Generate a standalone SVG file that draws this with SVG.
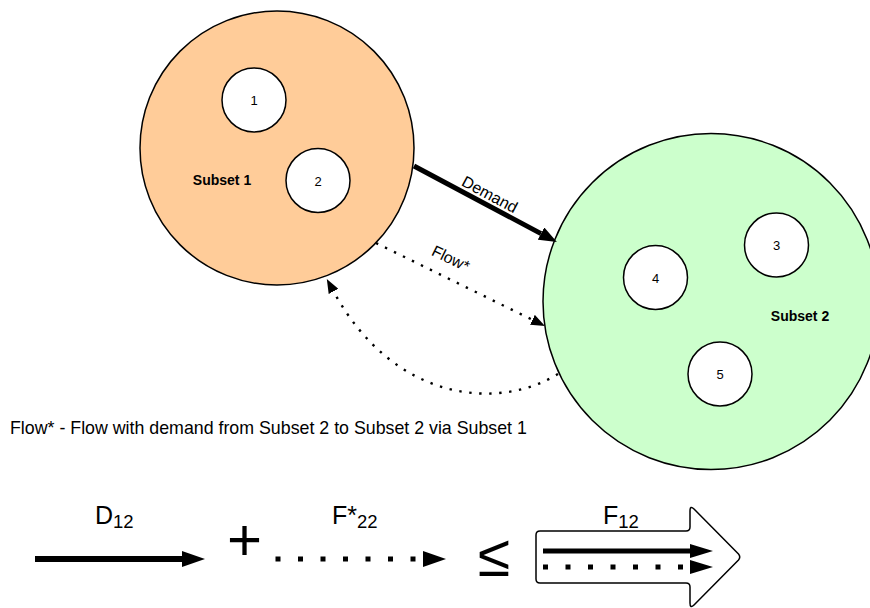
<svg xmlns="http://www.w3.org/2000/svg" width="870" height="608" viewBox="0 0 870 608">
  <style>
    text { font-family: "Liberation Sans", Arial, sans-serif; fill: #000; }
    .set { stroke: #000; stroke-width: 1.5; }
    .node { fill: #fff; stroke: #000; stroke-width: 1.5; }
    .num { font-size: 13px; text-anchor: middle; }
    .setlabel { font-size: 14px; font-weight: bold; text-anchor: middle; }
    .lbl { font-size: 16px; text-anchor: middle; }
    .eq { font-size: 25px; }
    .sub { font-size: 18.5px; }
    .dot { fill: none; stroke: #000; stroke-width: 2.4; stroke-dasharray: 2.4 7.6; }
    .sq { fill: none; stroke: #000; stroke-width: 5; stroke-dasharray: 5 17.5; }
  </style>
  <defs>
    <marker id="ahBig" markerUnits="userSpaceOnUse" markerWidth="18" markerHeight="14" refX="0" refY="7" orient="auto">
      <path d="M0,0 L18,7 L0,14 Z" fill="#000"/>
    </marker>
    <marker id="ahSmall" markerUnits="userSpaceOnUse" markerWidth="14" markerHeight="11" refX="0" refY="5.5" orient="auto">
      <path d="M0,0 L14,5.5 L0,11 Z" fill="#000"/>
    </marker>
    <marker id="ahEq" markerUnits="userSpaceOnUse" markerWidth="23" markerHeight="16" refX="0" refY="8" orient="auto">
      <path d="M0,0 L23,8 L0,16 Z" fill="#000"/>
    </marker>
    <marker id="ahIn" markerUnits="userSpaceOnUse" markerWidth="23" markerHeight="14" refX="0" refY="7" orient="auto">
      <path d="M0,0 L23,7 L0,14 Z" fill="#000"/>
    </marker>
  </defs>

  <!-- Subset 1 -->
  <g id="subset1">
    <circle class="set" cx="277" cy="148" r="137" fill="#FFCC99"/>
    <text class="setlabel" x="222" y="185">Subset 1</text>
  </g>
  <g id="node1">
    <circle class="node" cx="254" cy="100" r="32"/>
    <text class="num" x="254" y="105">1</text>
  </g>
  <g id="node2">
    <circle class="node" cx="318" cy="180.5" r="32"/>
    <text class="num" x="318" y="185.5">2</text>
  </g>

  <!-- Subset 2 -->
  <g id="subset2">
    <circle class="set" cx="711" cy="301.5" r="168" fill="#CCFFCC"/>
    <text class="setlabel" x="800" y="321">Subset 2</text>
  </g>
  <g id="node3">
    <circle class="node" cx="776.5" cy="245" r="32"/>
    <text class="num" x="776.5" y="250">3</text>
  </g>
  <g id="node4">
    <circle class="node" cx="655.5" cy="277.5" r="32"/>
    <text class="num" x="655.5" y="282.5">4</text>
  </g>
  <g id="node5">
    <circle class="node" cx="720" cy="374" r="32"/>
    <text class="num" x="720" y="379">5</text>
  </g>

  <!-- connectors between the subsets -->
  <g id="connectors">
    <path d="M414,166 L541,233.6" fill="none" stroke="#000" stroke-width="5" marker-end="url(#ahBig)"/>
    <text class="lbl" transform="translate(490,194) rotate(28)" x="0" y="6">Demand</text>
    <path class="dot" d="M376,243 L532.4,319.8" marker-end="url(#ahSmall)"/>
    <text class="lbl" transform="translate(451,258) rotate(26)" x="0" y="6">Flow*</text>
    <path class="dot" d="M558,374 C500,410 395,404 333.5,291.4" marker-end="url(#ahSmall)"/>
  </g>

  <text x="10" y="434" font-size="17.8">Flow* - Flow with demand from Subset 2 to Subset 2 via Subset 1</text>

  <!-- inequality: D12 + F*22 <= F12 -->
  <g id="eq-demand">
    <path d="M35,559 L182,559" fill="none" stroke="#000" stroke-width="6" marker-end="url(#ahEq)"/>
    <text class="eq" x="95" y="524">D<tspan class="sub" dy="4">12</tspan></text>
  </g>
  <text x="244.5" y="560" font-size="60" text-anchor="middle">+</text>
  <g id="eq-flow">
    <path class="sq" d="M275.5,559 L423,559" marker-end="url(#ahEq)"/>
    <text class="eq" x="332" y="524">F*<tspan class="sub" dy="4">22</tspan></text>
  </g>
  <text x="494" y="576" font-size="59" text-anchor="middle">≤</text>
  <g id="eq-total">
    <path d="M540,531 H686 Q690,531 690,527 V511 Q690,505 694,509 L738.5,554 Q741,557 738.5,560 L694,605 Q690,609 690,603 V587 Q690,583 686,583 H540 Q536,583 536,579 V535 Q536,531 540,531 Z" fill="#fff" stroke="#000" stroke-width="1.5"/>
    <path d="M543,551 L690,551" fill="none" stroke="#000" stroke-width="5" marker-end="url(#ahIn)"/>
    <path class="sq" d="M543,567 L690,567" marker-end="url(#ahIn)"/>
    <text class="eq" x="603" y="524">F<tspan class="sub" dy="4">12</tspan></text>
  </g>
</svg>
